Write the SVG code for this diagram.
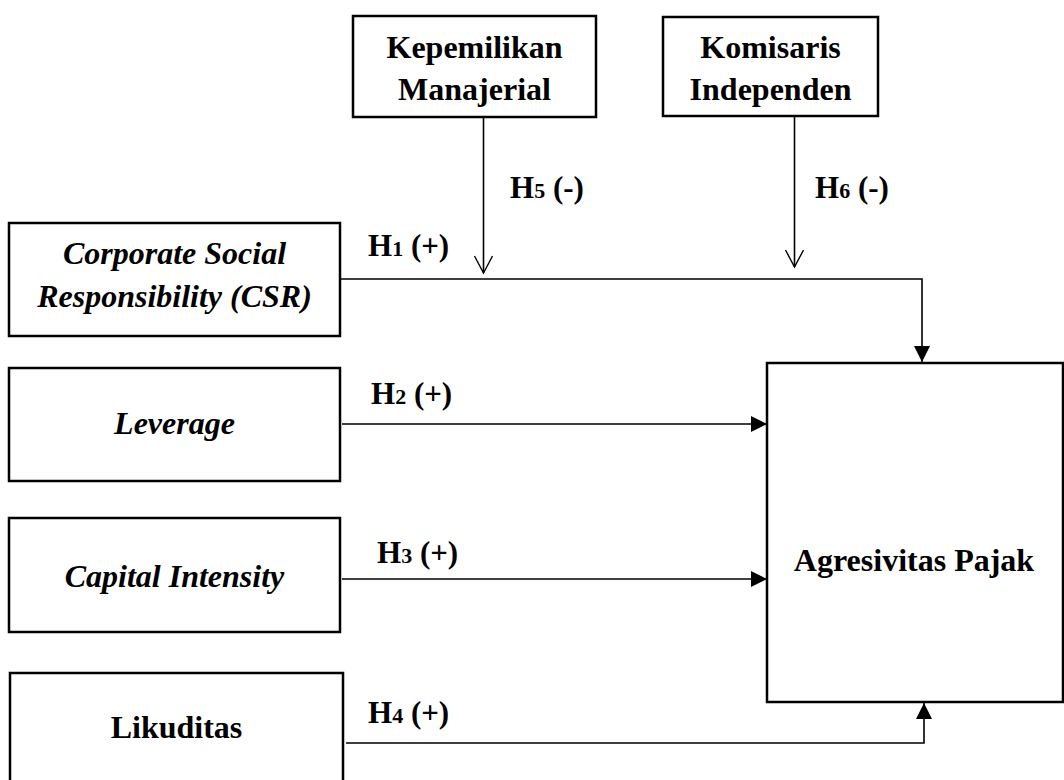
<svg xmlns="http://www.w3.org/2000/svg" width="1064" height="780" viewBox="0 0 1064 780">
<style>
.box{fill:#fff;stroke:#000;stroke-width:2.5}
.t{font-family:"Liberation Serif","Times New Roman",serif;font-weight:bold;font-size:32px;fill:#000;text-anchor:middle}
.i{font-style:italic}
.lbl{font-family:"Liberation Serif","Times New Roman",serif;font-weight:bold;font-size:31px;fill:#000}
.sub{font-size:22px}
.c{fill:none;stroke:#000;stroke-width:1.6}
</style>
<defs>
<marker id="solid" markerUnits="userSpaceOnUse" markerWidth="16" markerHeight="16" refX="16" refY="8" orient="auto">
<path d="M0,0 L16,8 L0,16 Z" fill="#000"/>
</marker>
<marker id="open" markerUnits="userSpaceOnUse" markerWidth="20" markerHeight="22" refX="18" refY="10" orient="auto">
<path d="M1,1 L18,10 L1,19" fill="none" stroke="#000" stroke-width="1.4"/>
</marker>
</defs>
<g id="kepemilikan">
<rect class="box" x="353" y="16" width="243" height="101"/>
<text class="t" x="474.5" y="58">Kepemilikan</text>
<text class="t" x="474.5" y="100">Manajerial</text>
</g>
<g id="komisaris">
<rect class="box" x="663" y="17" width="215" height="99"/>
<text class="t" x="770.5" y="58">Komisaris</text>
<text class="t" x="770.5" y="100">Independen</text>
</g>
<g id="csr">
<rect class="box" x="9" y="223" width="331" height="113"/>
<text class="t i" x="174.5" y="264">Corporate Social</text>
<text class="t i" x="174.5" y="307">Responsibility (CSR)</text>
</g>
<g id="leverage">
<rect class="box" x="9" y="368" width="331" height="113"/>
<text class="t i" x="174.5" y="434">Leverage</text>
</g>
<g id="capital">
<rect class="box" x="9" y="518" width="331" height="114"/>
<text class="t i" x="174.5" y="587">Capital Intensity</text>
</g>
<g id="likuditas">
<rect class="box" x="10" y="673" width="333" height="120"/>
<text class="t" x="176.5" y="738">Likuditas</text>
</g>
<g id="agresivitas">
<rect class="box" x="767" y="363" width="296" height="339"/>
<text class="t" x="914" y="571">Agresivitas Pajak</text>
</g>
<g id="connectors">
<path class="c" d="M340,279 H922 V362" marker-end="url(#solid)"/>
<path class="c" d="M342,424 H767" marker-end="url(#solid)"/>
<path class="c" d="M342,579 H767" marker-end="url(#solid)"/>
<path class="c" d="M346,743 H924 V703" marker-end="url(#solid)"/>
<path class="c" d="M483.5,117 V273" marker-end="url(#open)"/>
<path class="c" d="M794.5,116 V267" marker-end="url(#open)"/>
</g>
<g id="labels">
<text class="lbl" x="368" y="256">H<tspan class="sub">1</tspan> (+)</text>
<text class="lbl" x="510" y="198">H<tspan class="sub">5</tspan> (-)</text>
<text class="lbl" x="815" y="198">H<tspan class="sub">6</tspan> (-)</text>
<text class="lbl" x="371" y="404">H<tspan class="sub">2</tspan> (+)</text>
<text class="lbl" x="377" y="563">H<tspan class="sub">3</tspan> (+)</text>
<text class="lbl" x="368" y="723">H<tspan class="sub">4</tspan> (+)</text>
</g>
</svg>
